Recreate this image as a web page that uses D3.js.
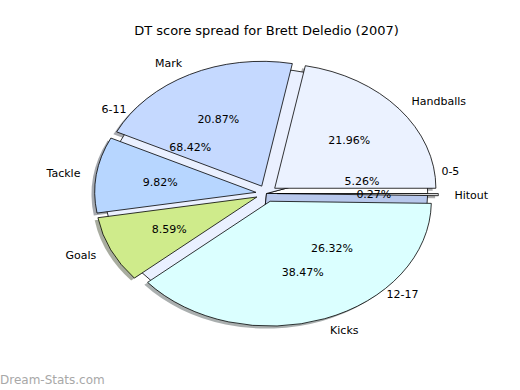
<!DOCTYPE html>
<html>
<head>
<meta charset="utf-8">
<script src="https://cdn.jsdelivr.net/npm/d3@7"></script>
<style>
  body { margin: 0; background: #fff; }
  svg { display: block; font-family: "DejaVu Sans", sans-serif; }
</style>
</head>
<body>
<div id="chart"></div>
<script>
// main pie: share of DT score by stat
var statLabels = ["Handballs", "Mark", "Tackle", "Goals", "Kicks", "Hitout"];
var statPct = [21.96, 20.87, 9.82, 8.59, 38.47, 0.27];
var statColors = ["#ebf2ff", "#c5d9ff", "#b7d6ff", "#cfeb8b", "#dbffff", "#e8e8e8"];

// background pie: games per score range
var binLabels = ["0-5", "6-11", "12-17"];
var binCounts = [1, 13, 5];
var binColors = ["#ffffff", "#eaf0ff", "#b8c8ec"];

var width = 520, height = 390;
var explode = 0.066;

var svg = d3.select("#chart").append("svg")
	.attr("width", width)
	.attr("height", height);

// axes box like matplotlib, limits -1.25..1.25 (pie not equal aspect)
var x = d3.scaleLinear().domain([-1.25, 1.25]).range([65, 468]);
var y = d3.scaleLinear().domain([-1.25, 1.25]).range([349.5, 37.5]);
var cx = x(0), cy = y(0);
var sx = x(1) - x(0), sy = y(0) - y(1);

// start at 3 o'clock, go counterclockwise
var pie = d3.pie().sort(null)
	.startAngle(Math.PI / 2)
	.endAngle(Math.PI / 2 - 2 * Math.PI);

var arc = d3.arc().innerRadius(0).outerRadius(1);

var statArcs = pie.value(function(d){ return d; })(statPct);
var binArcs = pie.value(function(d){ return d; })(binCounts);
var binTotal = d3.sum(binCounts);

function mid(d){ return (d.startAngle + d.endAngle) / 2; }
function dir(d){ var a = mid(d); return [Math.sin(a), -Math.cos(a)]; }

function darker(c){
	var r = d3.rgb(c);
	return d3.rgb(r.r * 0.3, r.g * 0.3, r.b * 0.3).toString();
}

var g = svg.append("g")
	.attr("transform", "translate(" + cx + "," + cy + ") scale(" + sx + "," + sy + ")");

function off(d, e, dx, dy){
	var v = dir(d);
	return "translate(" + (v[0] * e + dx) + "," + (v[1] * e + dy) + ")";
}

// shadows first (lower zorder)
g.selectAll(".shadowStat").data(statArcs).enter().append("path")
	.attr("d", arc)
	.attr("transform", function(d){ return off(d, explode, -0.02, 0.02); })
	.attr("fill", function(d, i){ return darker(statColors[i]); })
	.attr("opacity", 0.45);

g.selectAll(".bin").data(binArcs).enter().append("path")
	.attr("d", arc)
	.attr("fill", function(d, i){ return binColors[i]; })
	.attr("stroke", "#000")
	.attr("stroke-width", 0.8)
	.attr("vector-effect", "non-scaling-stroke");

g.selectAll(".stat").data(statArcs).enter().append("path")
	.attr("d", arc)
	.attr("transform", function(d){ return off(d, explode, 0, 0); })
	.attr("fill", function(d, i){ return statColors[i]; })
	.attr("stroke", "#000")
	.attr("stroke-width", 0.8)
	.attr("vector-effect", "non-scaling-stroke");

// labels
function addText(arcs, labels, pctText, e){
	arcs.forEach(function(d, i){
		var v = dir(d);
		var lx = cx + sx * v[0] * (e + 1.1), ly = cy + sy * v[1] * (e + 1.1);
		svg.append("text")
			.attr("x", lx).attr("y", ly)
			.attr("dy", "0.35em")
			.attr("text-anchor", v[0] > 0 ? "start" : "end")
			.attr("font-size", 11)
			.text(labels[i]);
		var px = cx + sx * v[0] * (e + 0.6), py = cy + sy * v[1] * (e + 0.6);
		svg.append("text")
			.attr("x", px).attr("y", py)
			.attr("dy", "0.35em")
			.attr("text-anchor", "middle")
			.attr("font-size", 11)
			.text(pctText(d, i));
	});
}

addText(binArcs, binLabels, function(d){ return (d.value / binTotal * 100).toFixed(2) + "%"; }, 0);
addText(statArcs, statLabels, function(d){ return d.value.toFixed(2) + "%"; }, explode);

svg.append("text")
	.attr("x", 266.5).attr("y", 35)
	.attr("text-anchor", "middle")
	.attr("font-size", 13)
	.text("DT score spread for Brett Deledio (2007)");

svg.append("text")
	.attr("x", 0).attr("y", 384)
	.attr("font-size", 12)
	.attr("fill", "#a8a8a8")
	.text("Dream-Stats.com");
</script>
</body>
</html>
